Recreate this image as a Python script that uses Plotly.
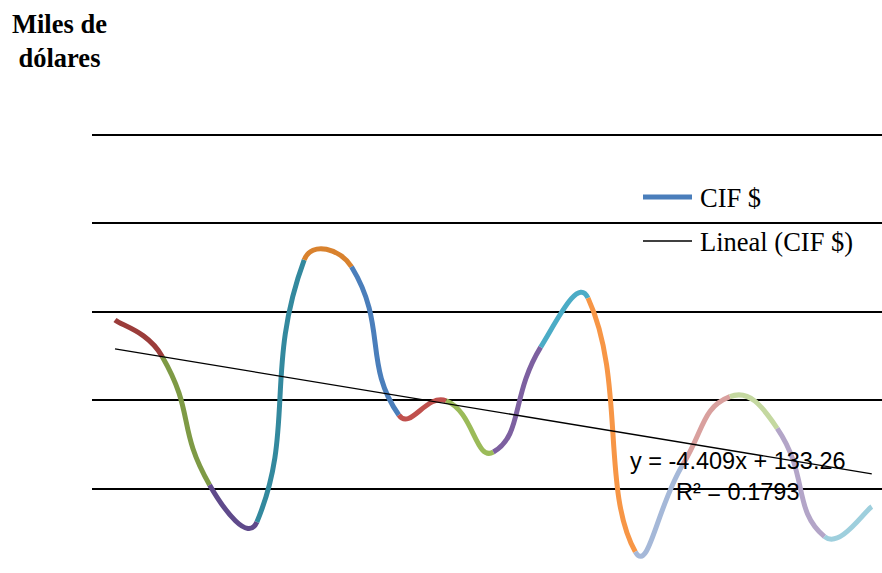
import plotly.graph_objects as go

# ---- data ----
periods = list(range(1, 18))
cif = [145.2, 124.5, 52.0, 31.1, 179.1, 175.3, 91.5, 99.6, 70.6, 129.9,
       157.6, 14.3, 63.3, 101.9, 84.0, 22.8, 39.7]
segment_colors = ["#9B3C3A", "#7E9A45", "#5F4A8B", "#33899E", "#D9822E",
                  "#4A7EBB", "#C0504D", "#9BBB59", "#7D60A0", "#4BACC6",
                  "#F79646", "#A5B8D8", "#D9A09E", "#C4D8A0", "#B3A5C8", "#9ECFDD"]
trend_slope = -4.409
trend_intercept = 133.26
grid_values = [50, 100, 150, 200, 250]
title_text = "Miles de<br>dólares"
series_name = "CIF $"
trend_name = "Lineal (CIF $)"
eq_text = "y = -4.409x + 133.26"
r2_text = "R² = 0.1793"

# ---- layout geometry ----
W, H = 882, 573
ML, MR, MT, MB = 92, 0, 100, 0
PX_X = 47.3   # pixels per category
PX_Y = 1.77   # pixels per value unit
x_min = 1 - (115 - ML) / PX_X
x_max = x_min + (W - ML - MR) / PX_X
y_min = 100 - (H - MB - 400) / PX_Y
y_max = y_min + (H - MT - MB) / PX_Y


def px(xv, yv):
    return xv * PX_X, yv * PX_Y


def seg_len(a, b):
    ax, ay = px(*a)
    bx, by = px(*b)
    return ((ax - bx) ** 2 + (ay - by) ** 2) ** 0.5


pts = list(zip(periods, cif))
n = len(pts)
shapes = []
for i in range(n - 1):
    p0 = pts[max(i - 1, 0)]
    p1 = pts[i]
    p2 = pts[i + 1]
    p3 = pts[min(i + 2, n - 1)]
    l01, l12, l23 = seg_len(p0, p1), seg_len(p1, p2), seg_len(p2, p3)
    f1 = 0.5 * l12 / (l01 + l12) if l01 > 0 else 1 / 6
    f2 = 0.5 * l12 / (l12 + l23) if l23 > 0 else 1 / 6
    c1 = (p1[0] + f1 * (p2[0] - p0[0]), p1[1] + f1 * (p2[1] - p0[1]))
    c2 = (p2[0] - f2 * (p3[0] - p1[0]), p2[1] - f2 * (p3[1] - p1[1]))
    path = (f"M {p1[0]},{p1[1]} C {c1[0]},{c1[1]} {c2[0]},{c2[1]} "
            f"{p2[0]},{p2[1]}")
    shapes.append(dict(type="path", path=path, xref="x", yref="y",
                       layer="between",
                       line=dict(color=segment_colors[i], width=5)))


def paper_x(p):
    return (p - ML) / (W - ML - MR)


def paper_y(p):
    return (H - MB - p) / (H - MT - MB)


# manual legend
shapes.append(dict(type="line", xref="paper", yref="paper",
                   x0=paper_x(643), x1=paper_x(692), y0=paper_y(197), y1=paper_y(197),
                   line=dict(color="#4A7EBB", width=5), layer="above"))
shapes.append(dict(type="line", xref="paper", yref="paper",
                   x0=paper_x(643), x1=paper_x(692), y0=paper_y(241), y1=paper_y(241),
                   line=dict(color="#000000", width=1.3), layer="above"))

fig = go.Figure()
trend_y = [trend_slope * x + trend_intercept for x in [periods[0], periods[-1]]]
fig.add_trace(go.Scatter(x=[periods[0], periods[-1]], y=trend_y, mode="lines",
                         line=dict(color="#000000", width=1.3),
                         showlegend=False, hoverinfo="skip"))

annotations = [
    dict(text=f"<b>{title_text}</b>", xref="paper", yref="paper",
         x=paper_x(59), y=paper_y(41), xanchor="center", yanchor="middle",
         showarrow=False, align="center",
         font=dict(family="Liberation Serif", size=26.5, color="#000")),
    dict(text=series_name, xref="paper", yref="paper",
         x=paper_x(698), y=paper_y(198), xanchor="left", yanchor="middle",
         showarrow=False, font=dict(family="Liberation Serif", size=26.5, color="#000")),
    dict(text=trend_name, xref="paper", yref="paper",
         x=paper_x(698), y=paper_y(242), xanchor="left", yanchor="middle",
         showarrow=False, font=dict(family="Liberation Serif", size=26.5, color="#000")),
    dict(text=eq_text, xref="paper", yref="paper",
         x=paper_x(738), y=paper_y(461), xanchor="center", yanchor="middle",
         showarrow=False, font=dict(family="Liberation Sans", size=23.5, color="#000")),
    dict(text=r2_text, xref="paper", yref="paper",
         x=paper_x(737), y=paper_y(492), xanchor="center", yanchor="middle",
         showarrow=False, font=dict(family="Liberation Sans", size=23.5, color="#000")),
]

fig.update_layout(
    width=W, height=H,
    margin=dict(l=ML, r=MR, t=MT, b=MB, pad=0),
    paper_bgcolor="white", plot_bgcolor="white",
    showlegend=False,
    shapes=shapes,
    annotations=annotations,
    xaxis=dict(range=[x_min, x_max], showgrid=False, zeroline=False,
               showticklabels=False, ticks="", showline=False),
    yaxis=dict(range=[y_min, y_max], tickmode="array", tickvals=grid_values,
               showgrid=True, gridcolor="#000000", gridwidth=1.6,
               zeroline=False, showticklabels=False, ticks="", showline=False),
)

fig.write_html("out.html",
               config={"displayModeBar": False},
               post_script="document.body.style.margin='0px';"
                           "document.body.style.overflow='hidden';")
